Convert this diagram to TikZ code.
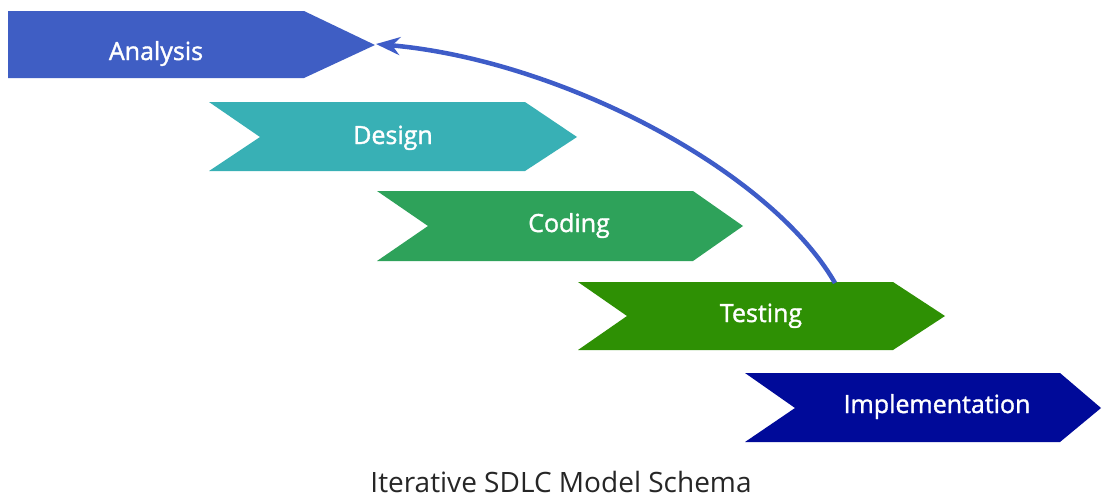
\documentclass[tikz,border=0pt]{standalone}
\usepackage{fontspec}
\setmainfont{Open Sans}
\newfontfamily\lblfont{Open Sans}[FakeBold=1.4]
\newfontfamily\capfont{Open Sans}
\usetikzlibrary{arrows.meta}
\definecolor{cAna}{RGB}{63,94,196}
\definecolor{cDes}{RGB}{56,176,181}
\definecolor{cCod}{RGB}{46,162,90}
\definecolor{cTes}{RGB}{46,144,4}
\definecolor{cImp}{RGB}{0,10,153}
\definecolor{cArr}{RGB}{62,92,200}
\begin{document}
\begin{tikzpicture}[x=1pt,y=-1pt,
  lbl/.style={anchor=base,text=white,inner sep=0pt,font=\lblfont\fontsize{25}{30}\selectfont},
  loop/.style={draw=cArr,line width=4.5pt,-{Stealth[length=24pt,width=18pt]}}]
\useasboundingbox (0,0) rectangle (1102,498);
\fill[white] (0,0) rectangle (1102,498);
% chevrons
\fill[cAna] (8,11) -- (304,11) -- (375,45) -- (304,78) -- (8,78) -- cycle;
\fill[cDes] (209,102) -- (525,102) -- (577,137) -- (525,171) -- (209,171) -- (260,137) -- cycle;
\fill[cCod] (377,191) -- (693,191) -- (743,226) -- (693,261) -- (377,261) -- (428,226) -- cycle;
\fill[cTes] (578,282) -- (893,282) -- (945,316) -- (893,350) -- (578,350) -- (627,316) -- cycle;
\fill[cImp] (745,373) -- (1060,373) -- (1101,408) -- (1060,442) -- (745,442) -- (795,408) -- cycle;
% labels
\node[lbl] (ana) at (156,60) {Analysis};
\node[lbl] (des) at (393,144) {Design};
\node[lbl] (cod) at (569,232) {Coding};
\node[lbl] (tes) at (761,322) {Testing};
\node[lbl] (imp) at (937,413) {Implementation};
% loop-back arrow
\coordinate (tstart) at (835,283);
\coordinate (atip) at (376,44);
\draw[loop] (tstart) .. controls (770,170) and (560,60) .. (atip);
% caption
\node[anchor=base,inner sep=0pt,font=\capfont\fontsize{28}{32}\selectfont,text=black!85] (cap) at (561,492) {Iterative SDLC Model Schema};
\end{tikzpicture}
\end{document}
